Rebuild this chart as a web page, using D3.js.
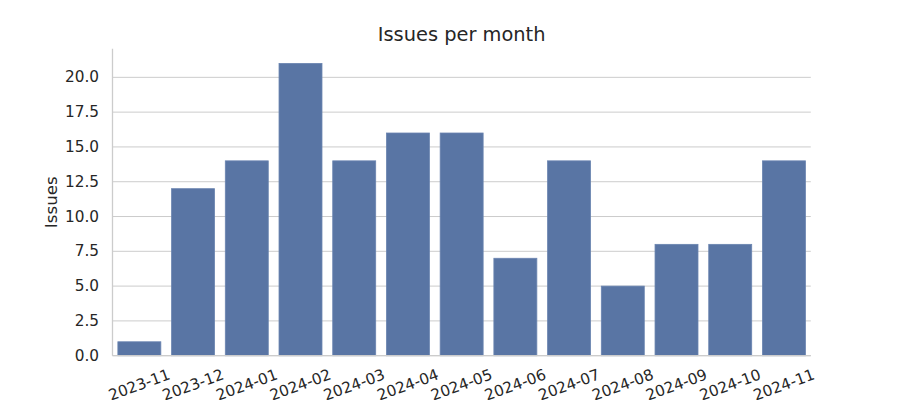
<!DOCTYPE html>
<html>
<head>
<meta charset="utf-8">
<script src="https://cdn.jsdelivr.net/npm/d3@7"></script>
<style>
  html, body { margin: 0; padding: 0; background: #fff; }
  svg { display: block; font-family: "DejaVu Sans", sans-serif; }
</style>
</head>
<body>
<svg id="chart" width="900" height="400"></svg>
<script>
const months = ["2023-11","2023-12","2024-01","2024-02","2024-03","2024-04","2024-05","2024-06","2024-07","2024-08","2024-09","2024-10","2024-11"];
const issues = [1, 12, 14, 21, 14, 16, 16, 7, 14, 5, 8, 8, 14];
const yTicks = [0, 2.5, 5, 7.5, 10, 12.5, 15, 17.5, 20];
const title = "Issues per month";
const yLabel = "Issues";

const svg = d3.select("#chart");
const mLeft = 112.5, mRight = 810.8, mTop = 48.8, mBottom = 355.7;

const x = d3.scaleBand().domain(months).range([mLeft, mRight]).paddingInner(0.2).paddingOuter(0.1);
const y = d3.scaleLinear().domain([0, 21 * 1.05]).range([mBottom, mTop]);

// grid
svg.append("g").selectAll("line").data(yTicks).join("line")
  .attr("x1", mLeft).attr("x2", mRight)
  .attr("y1", d => y(d)).attr("y2", d => y(d))
  .attr("stroke", "#cccccc").attr("stroke-width", 1);

// bars
svg.append("g").selectAll("rect").data(months).join("rect")
  .attr("x", d => x(d))
  .attr("width", x.bandwidth())
  .attr("y", (d, i) => y(issues[i]))
  .attr("height", (d, i) => y(0) - y(issues[i]))
  .attr("fill", "#5975a4")
  .attr("stroke", "#6a84b0").attr("stroke-width", 0.8);

// spines
svg.append("line").attr("x1", mLeft).attr("x2", mLeft).attr("y1", mTop).attr("y2", mBottom)
  .attr("stroke", "#cccccc").attr("stroke-width", 1.3);
svg.append("line").attr("x1", mLeft).attr("x2", mRight).attr("y1", mBottom).attr("y2", mBottom)
  .attr("stroke", "#cccccc").attr("stroke-width", 1.3);

// y tick labels
svg.append("g").selectAll("text").data(yTicks).join("text")
  .attr("x", 99).attr("y", d => y(d))
  .attr("text-anchor", "end").attr("dominant-baseline", "central")
  .attr("font-size", "15.3px").attr("fill", "#262626")
  .text(d => d3.format(".1f")(d));

// x tick labels
svg.append("g").selectAll("text").data(months).join("text")
  .attr("transform", d => `translate(${x(d) + x.bandwidth() / 2},385) rotate(-20)`)
  .attr("text-anchor", "middle").attr("dominant-baseline", "central")
  .attr("font-size", "15.3px").attr("fill", "#262626")
  .text(d => d);

// y label
svg.append("text")
  .attr("transform", `translate(51,${(mTop + mBottom) / 2}) rotate(-90)`)
  .attr("text-anchor", "middle").attr("dominant-baseline", "central")
  .attr("font-size", "16.7px").attr("fill", "#262626")
  .text(yLabel);

// title
svg.append("text")
  .attr("x", (mLeft + mRight) / 2).attr("y", 41)
  .attr("text-anchor", "middle")
  .attr("font-size", "19.4px").attr("fill", "#262626")
  .text(title);
</script>
</body>
</html>
